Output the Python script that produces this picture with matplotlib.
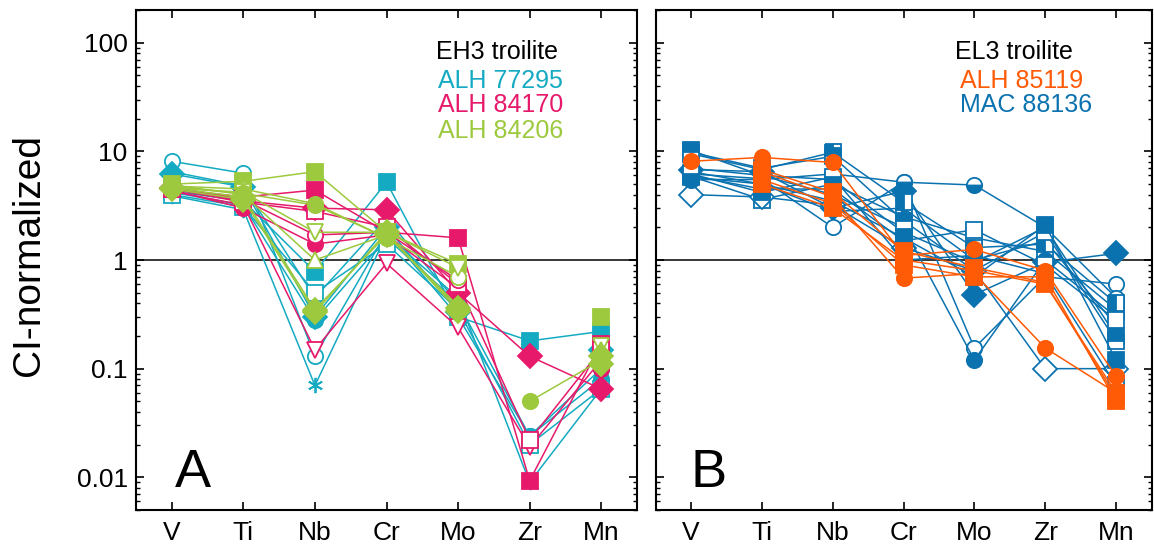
import numpy as np
import matplotlib
matplotlib.use("Agg")
import matplotlib.pyplot as plt
from matplotlib.ticker import FixedLocator, FuncFormatter, LogLocator, NullFormatter

plt.rcParams['font.family'] = ['Liberation Sans', 'DejaVu Sans']

nan = np.nan
elements = ['V', 'Ti', 'Nb', 'Cr', 'Mo', 'Zr', 'Mn']

# ---- panel A: EH3 troilite ----
alh77295 = [
    [8.1, 6.3, 0.13, 1.8, 0.30, 0.024, 0.10],
    [6.5, 4.8, 0.45, 2.4, 0.40, nan, 0.17],
    [6.2, 4.7, 0.30, 2.0, 0.33, nan, 0.15],
    [4.3, 3.5, 0.78, 5.2, 0.30, 0.18, 0.22],
    [4.2, 3.2, 0.28, 1.6, 0.40, 0.024, 0.08],
    [3.9, 2.9, 0.07, 1.7, 0.45, 0.009, 0.065],
    [4.0, 3.1, 0.50, 1.4, 0.35, 0.020, 0.065],
]
alh77295_markers = ['o', '^', 'D', 's', 'o', (6, 2, 0), 's']
alh77295_filled = [False, True, True, True, True, True, False]

alh84170 = [
    [4.5, 3.8, 4.4, 1.8, 1.6, 0.0093, 0.17],
    [4.6, 3.5, 3.0, 2.9, 0.50, 0.13, 0.065],
    [4.4, 3.0, 1.4, 1.7, 0.55, nan, 0.10],
    [4.3, 3.2, 0.15, 0.93, 0.24, 0.019, 0.12],
    [4.5, 3.4, 2.8, 2.0, 0.60, 0.022, 0.15],
    [4.7, 3.6, 1.7, 1.8, 0.65, nan, 0.13],
]
alh84170_markers = ['s', 'D', 'o', 'v', 's', 'o']
alh84170_filled = [True, True, True, False, False, False]

alh84206 = [
    [5.0, 5.3, 6.5, 1.8, 0.92, nan, 0.30],
    [4.8, 4.5, 3.3, 1.6, 0.70, nan, 0.12],
    [4.6, 4.2, 1.8, 1.8, 0.85, nan, 0.16],
    [4.9, 4.0, 1.0, 1.7, 0.38, nan, 0.15],
    [4.6, 3.8, 0.35, 1.7, 0.36, nan, 0.13],
    [4.5, 3.6, 0.33, 1.8, 0.34, nan, 0.11],
    [4.7, 4.1, 3.2, 1.6, nan, 0.05, 0.12],
]
alh84206_markers = ['s', 'o', 'v', '^', 'D', 'D', 'o']
alh84206_filled = [True, False, False, False, True, True, True]

# ---- panel B: EL3 troilite ----
mac88136 = [
    [10.2, 6.0, 5.5, 1.8, 0.95, 2.0, 0.20],
    [6.8, 6.5, 3.0, 4.3, 0.48, 0.95, 1.15],
    [5.9, 3.6, 5.0, 2.5, 1.6, 1.2, 0.35],
    [4.0, 3.8, 3.2, 1.3, 0.80, 0.10, 0.10],
    [6.2, 5.6, 2.0, 5.2, 0.155, 0.70, 0.60],
    [5.5, 5.5, 6.2, 5.2, 4.9, 2.0, 0.45],
    [7.0, 6.0, 4.0, 2.0, 0.12, 1.0, 0.30],
    [6.5, 5.0, 2.8, 3.0, 1.0, 1.5, 0.25],
    [9.5, 6.8, 9.8, 3.4, 1.3, 1.4, 0.40],
    [9.8, 7.0, 9.0, 2.3, 0.80, 1.8, 0.18],
    [6.0, 4.5, 4.5, 1.5, 1.9, 0.90, 0.28],
    [5.8, 5.0, 3.5, 1.6, 0.70, 2.1, 0.12],
    [6.2, 4.2, 5.8, 1.0, 1.1, 0.75, 0.07],
]
mac88136_markers = ['s', 'D', 's', 'D', 'o', 'o', 'o', 'v', 's', 's', 's', 's', 's']
mac88136_filled = [True, True, False, False, False, 'bottom', True, True,
                   'left', 'top', False, True, 'bottom']

alh85119 = [
    [8.1, 8.8, 7.9, 1.1, 1.25, 0.80, 0.085],
    [nan, 6.5, 3.8, 0.68, 0.75, 0.155, 0.06],
    [nan, 6.8, 4.2, 1.2, 0.85, 0.62, 0.055],
    [nan, 5.5, 3.3, 0.90, 0.70, 0.70, 0.05],
    [nan, 5.0, 3.0, 1.0, 0.80, 0.60, 0.06],
]
alh85119_markers = ['o', 'o', 's', 's', 's']
alh85119_filled = [True, True, True, True, True]

cyan = '#14AAC2'
pink = '#E6196A'
green = '#9CC93D'
orange = '#FF5A05'
blue = '#0B72B0'

x = np.arange(len(elements))


def draw_group(ax, rows, markers, filled, color):
    for vals, m, f in zip(rows, markers, filled):
        ms = 12 if m in ('D', '^', 'v') else 11
        kw = dict(color=color, lw=1.1, marker=m, ms=ms, mec=color, mew=1.3)
        if f is True:
            kw['mfc'] = color
        elif f is False:
            kw['mfc'] = 'white'
        else:
            kw['mfc'] = color
            kw['fillstyle'] = f
            kw['markerfacecoloralt'] = 'white'
        ax.plot(x, vals, **kw)


def style_axis(ax, show_labels):
    ax.set_yscale('log')
    ax.set_ylim(0.005, 200)
    ax.set_xlim(-0.5, 6.5)
    ax.axhline(1, color='black', lw=1.1, zorder=0)
    ax.set_xticks(x)
    ax.set_xticklabels(elements, fontsize=19)
    ax.yaxis.set_major_locator(FixedLocator([0.01, 0.1, 1, 10, 100]))
    ax.yaxis.set_minor_locator(LogLocator(base=10, subs=np.arange(2, 10)))
    ax.yaxis.set_minor_formatter(NullFormatter())
    ax.yaxis.set_major_formatter(FuncFormatter(lambda v, p: '%g' % v))
    ax.tick_params(axis='both', which='major', direction='in', length=6,
                   width=1.2, top=True, right=True, labelsize=19, pad=6)
    ax.tick_params(axis='y', which='minor', direction='in', length=3,
                   width=1.0, right=True)
    ax.tick_params(axis='x', pad=8)
    if not show_labels:
        ax.tick_params(axis='y', labelleft=False)
    for s in ax.spines.values():
        s.set_linewidth(1.5)


fig = plt.figure(figsize=(11.54, 5.52), dpi=100)
axA = fig.add_axes([136 / 1154, 42 / 552, 501 / 1154, 500 / 552])
axB = fig.add_axes([655.5 / 1154, 42 / 552, 496 / 1154, 500 / 552])

draw_group(axA, alh77295, alh77295_markers, alh77295_filled, cyan)
draw_group(axA, alh84170, alh84170_markers, alh84170_filled, pink)
draw_group(axA, alh84206, alh84206_markers, alh84206_filled, green)
style_axis(axA, True)

draw_group(axB, mac88136, mac88136_markers, mac88136_filled, blue)
draw_group(axB, alh85119, alh85119_markers, alh85119_filled, orange)
style_axis(axB, False)

# legend texts
fs = 18
axA.text(0.599, 0.902, 'EH3 troilite', transform=axA.transAxes, fontsize=fs)
axA.text(0.602, 0.845, 'ALH 77295', transform=axA.transAxes, fontsize=fs, color=cyan)
axA.text(0.602, 0.795, 'ALH 84170', transform=axA.transAxes, fontsize=fs, color=pink)
axA.text(0.602, 0.745, 'ALH 84206', transform=axA.transAxes, fontsize=fs, color=green)

axB.text(0.604, 0.902, 'EL3 troilite', transform=axB.transAxes, fontsize=fs)
axB.text(0.614, 0.845, 'ALH 85119', transform=axB.transAxes, fontsize=fs, color=orange)
axB.text(0.614, 0.795, 'MAC 88136', transform=axB.transAxes, fontsize=fs, color=blue)

axA.text(0.078, 0.046, 'A', transform=axA.transAxes, fontsize=39)
axB.text(0.07, 0.046, 'B', transform=axB.transAxes, fontsize=39)

fig.text(29 / 1154, 0.538, 'CI-normalized', rotation=90, fontsize=28,
         ha='center', va='center')

plt.savefig('out.png', dpi=100)
